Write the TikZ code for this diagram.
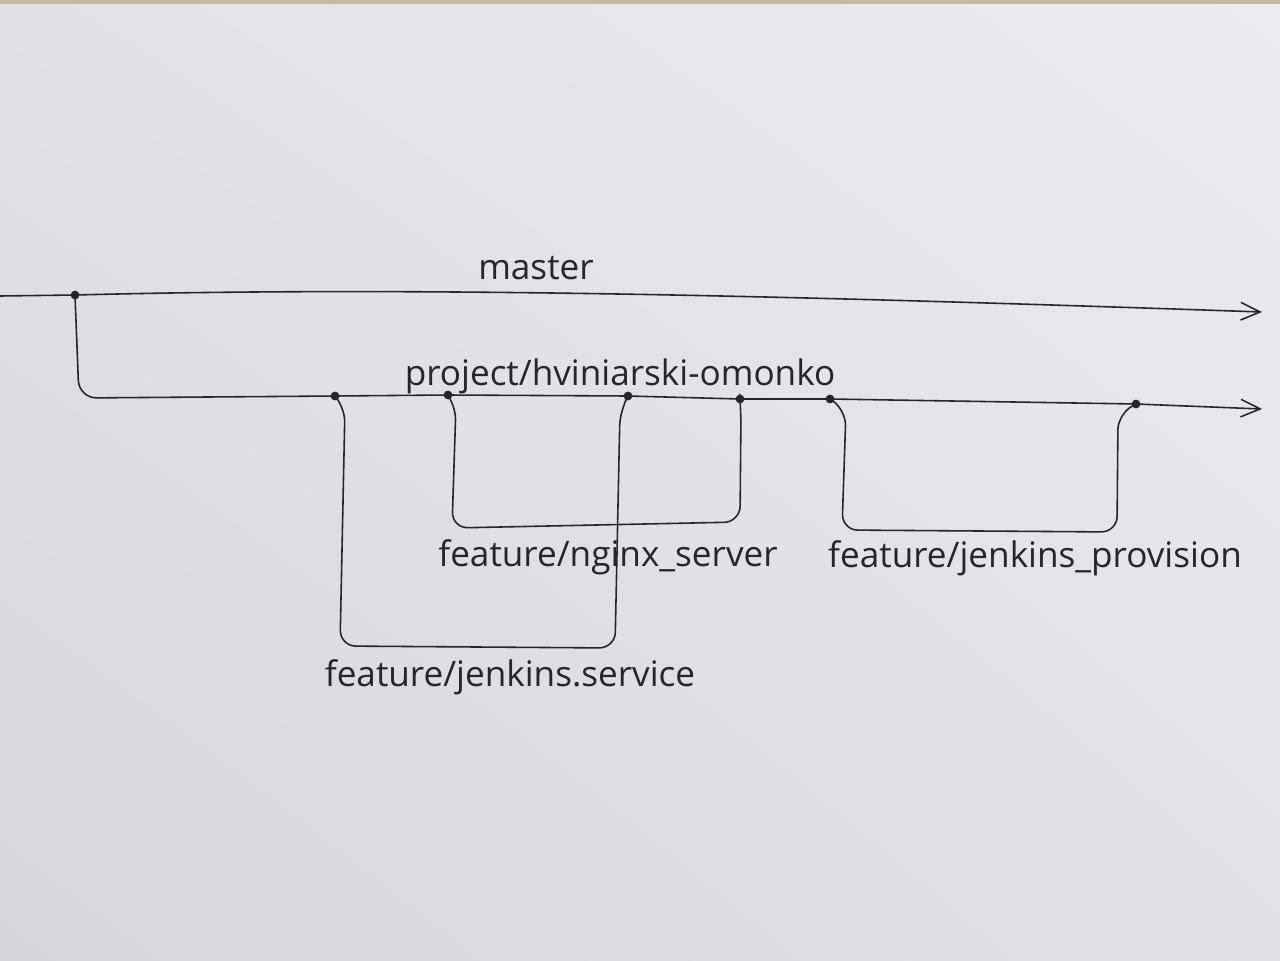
\documentclass[tikz,border=0pt]{standalone}
\usepackage{fontspec}
\setmainfont{Open Sans}
\usetikzlibrary{arrows.meta,shadings}
\definecolor{paper}{RGB}{226,226,228}
\definecolor{paperlight}{RGB}{236,236,238}
\definecolor{paperdark}{RGB}{214,214,216}
\definecolor{ink}{RGB}{38,38,40}
\tikzset{
  branch/.style={draw=ink, line width=0.9pt, line cap=round, line join=round},
  tip/.style={-{Straight Barb[length=11pt,width=10pt,line width=0.9pt]}},
  commit/.style={circle, fill=ink, inner sep=0pt, minimum size=5pt},
  label/.style={text=ink, font=\fontsize{20}{24}\selectfont, inner sep=0pt}
}
\begin{document}
\begin{tikzpicture}[x=0.02cm, y=-0.02cm]
  % sheet of paper
  \useasboundingbox (0,0) rectangle (1280,960);
  \shade[lower left=paperdark, upper right=paperlight, lower right=paper, upper left=paper]
    (0,960) rectangle (1280,0);
  \fill[color={rgb,255:red,196;green,186;blue,164}] (0,0) rectangle (1280,4);

  % master
  \coordinate (mstart) at (0,296);
  \node[commit] (m0) at (75,295) {};
  \coordinate (mend) at (1262,312);
  \draw[branch, tip] (mstart) -- (m0.center)
    .. controls (420,286) and (800,296) .. (mend);
  \node[label] (lmaster) at (536,268) {master};

  % project branch and its commits
  \node[commit] (c1) at (335,396) {};
  \node[commit] (c2) at (448,395) {};
  \node[commit] (c3) at (628,396) {};
  \node[commit] (c4) at (740,399) {};
  \node[commit] (c5) at (830,399) {};
  \node[commit] (c6) at (1136,404) {};
  \coordinate (pend) at (1262,409);
  \draw[branch, tip, rounded corners=10pt]
    (m0.center) -- (79,398) -- (c1.center) [sharp corners] -- (c2.center) -- (c3.center)
    -- (c4.center) -- (c5.center) -- (c6.center) -- (pend);
  \node[label] (lproject) at (620,376) {project/hviniarski-omonko};

  % feature/jenkins.service
  \draw[branch, rounded corners=9pt]
    (c1.center) -- (345,406) -- (340,646) -- (615,648) -- (620,410) -- (c3.center);
  \node[label] (lservice) at (510,677) {feature/jenkins.service};

  % feature/nginx_server
  \draw[branch, rounded corners=9pt]
    (c2.center) -- (456,404) -- (452,528) -- (740,522) -- (741,410) -- (c4.center);
  \node[label] (lnginx) at (608,557) {feature/nginx\_server};

  % feature/jenkins_provision
  \draw[branch, rounded corners=9pt]
    (c5.center) -- (846,410) -- (842,530) -- (1117,532) -- (1118,414) -- (c6.center);
  \node[label] (lprovision) at (1035,558) {feature/jenkins\_provision};
\end{tikzpicture}
\end{document}
